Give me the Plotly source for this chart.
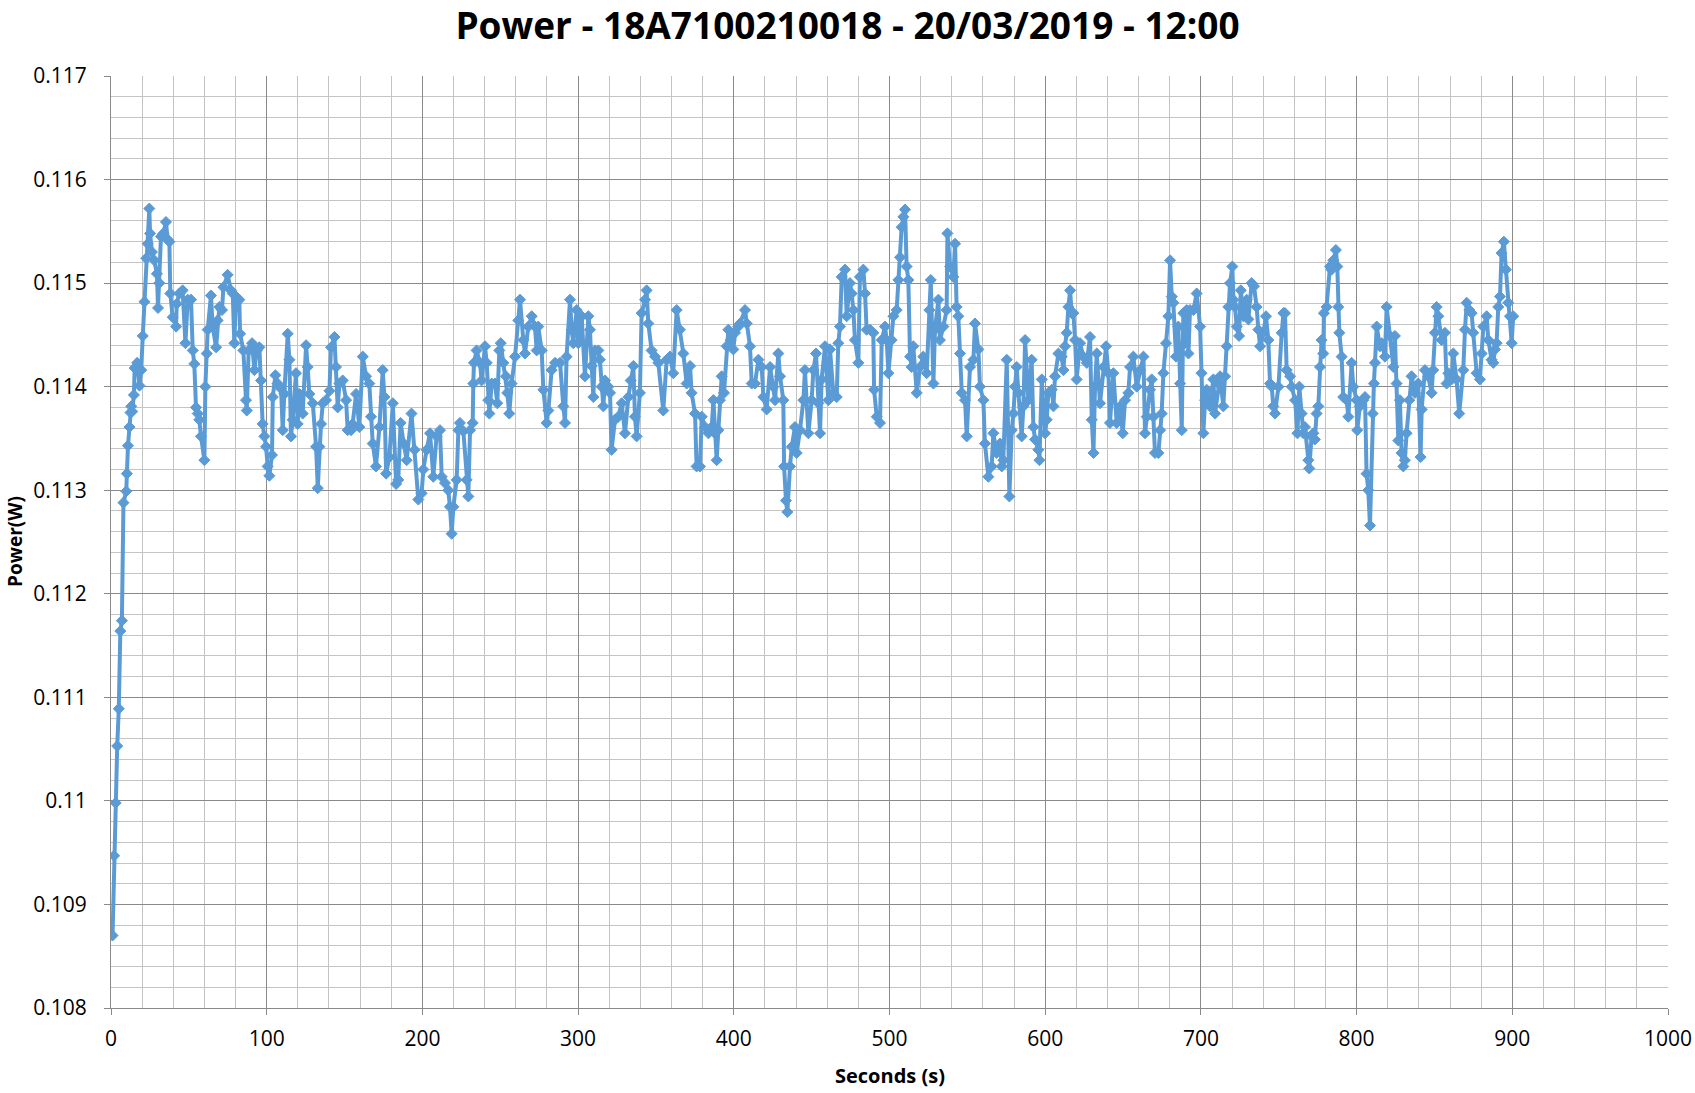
import plotly.graph_objects as go

# ---- data (seconds, power in W) ----
seconds_a = [1, 2, 3, 4, 5, 6, 7, 8, 9.8, 10.2, 10.9, 11.9, 12.5, 13, 13.6, 14.7, 15.2, 16.8, 18.3, 19.4, 20.4, 21.5, 22.6, 23.6,
             24.6, 25.1, 26.3, 27.8, 29.5, 30.2, 31, 32.1, 33.6, 35.3, 36.4, 37.5, 38.1, 39.6, 41.8, 42.2, 43.9, 46, 47.8, 49.3,
             51.4, 52.5, 53.5, 54.6, 55.7, 56.7, 57.8, 60, 60.6, 61.5, 62.1, 64.2, 65.3, 67.5, 68.5, 69.6, 71.3, 72.2, 74.9,
             77.1, 78.2, 79.2, 80.3, 82.4, 82.9, 85, 86.7, 87.2, 88.4, 90.6, 92.1, 93.6, 95.3, 96.4, 97.4, 98.5, 99.6, 100.6,
             101.7, 103.4, 103.9, 105.6, 107, 109.2, 110.3, 111.3, 113.5, 114.6, 115.6, 116.7, 118.8, 119.9, 121, 123.1, 125.3,
             126.3, 127.4, 129.6, 131.7, 132.8, 133.8, 134.9, 136, 138.1, 140.3, 141.3, 143.5, 144.5, 145.6, 146.7, 148.8, 151,
             152, 154.2, 155.2, 157.4, 159.5, 161.7, 163.8, 165.9, 167, 168.1, 170.2, 172.4, 174.5, 175.6, 176.7, 178.8, 181,
             183.1]
power_a = [0.10870, 0.10947, 0.10998, 0.11053, 0.11089, 0.11164, 0.11174, 0.11288, 0.11299, 0.11316, 0.11343, 0.11361,
           0.11375, 0.11381, 0.11376, 0.11392, 0.11418, 0.11423, 0.11401, 0.11416, 0.11449, 0.11482, 0.11524, 0.11538,
           0.11572, 0.11548, 0.11530, 0.11522, 0.11509, 0.11476, 0.11500, 0.11545, 0.11548, 0.11559, 0.11542, 0.11540,
           0.11490, 0.11467, 0.11458, 0.11480, 0.11490, 0.11493, 0.11442, 0.11484, 0.11484, 0.11435, 0.11422, 0.11380,
           0.11374, 0.11368, 0.11352, 0.11329, 0.11400, 0.11432, 0.11455, 0.11488, 0.11458, 0.11438, 0.11464, 0.11477,
           0.11474, 0.11496, 0.11508, 0.11493, 0.11490, 0.11442, 0.11487, 0.11484, 0.11451, 0.11435, 0.11387, 0.11377,
           0.11435, 0.11442, 0.11416, 0.11435, 0.11438, 0.11406, 0.11364, 0.11352, 0.11342, 0.11323, 0.11314, 0.11334,
           0.11390, 0.11411, 0.11403, 0.11398, 0.11358, 0.11393, 0.11451, 0.11426, 0.11352, 0.11368, 0.11413, 0.11364,
           0.11393, 0.11374, 0.11440, 0.11419, 0.11393, 0.11384, 0.11342, 0.11302, 0.11342, 0.11364, 0.11384, 0.11387,
           0.11396, 0.11438, 0.11448, 0.11419, 0.11380, 0.11403, 0.11406, 0.11387, 0.11358, 0.11358, 0.11364, 0.11393,
           0.11361, 0.11429, 0.11410, 0.11403, 0.11371, 0.11345, 0.11323, 0.11361, 0.11416, 0.11390, 0.11316, 0.11332,
           0.11384, 0.11306]

seconds_b = [184.5, 186, 188, 189.9, 193, 195, 197.4, 199.5, 200.6, 202.7, 204.9, 207, 209.1, 211.3, 212.4, 214.5, 216.6,
             217.7, 218.8, 219.9, 222, 223.1, 224.1, 226.3, 228.4, 229.5, 230.6, 232.3, 232.7, 233.1, 234.8, 237, 238, 240.2,
             241.3, 242.3, 243, 244.5, 246.6, 248.1, 249.4, 250.3, 252, 253.7, 254.5, 255.8, 257.3, 259.5, 261.6, 262.7,
             264.8, 265.9, 268, 270.2, 272.3, 273.4, 274.4, 276.6, 277.7, 279.8, 280.9, 283, 285.2, 288.4, 290.5, 291.6,
             292.6, 294.8, 295.9, 296.9, 299.1, 300.1, 302.3, 304.4, 306.6, 307.6, 308.7, 309.8, 310.8, 313, 314, 315.1,
             316.2, 317.3, 319.4, 320.5, 321.5, 323.7, 325.8, 328, 330.1, 332.3, 333.8, 335.5, 336.5, 337.6, 339.7, 340.8,
             343, 344, 345.1, 347.2, 349.4, 351.5, 354.7, 356.9, 359, 361.1, 363.3, 365.4, 367.6, 369.7, 371.9, 372.9,
             375.1, 376.1]
power_b = [0.11310, 0.11365, 0.11345, 0.11329, 0.11374, 0.11339, 0.11291, 0.11297, 0.11320, 0.11339, 0.11355, 0.11313,
           0.11352, 0.11358, 0.11313, 0.11307, 0.11300, 0.11284, 0.11258, 0.11284, 0.11310, 0.11358, 0.11365, 0.11357,
           0.11310, 0.11294, 0.11358, 0.11365, 0.11403, 0.11423, 0.11435, 0.11423, 0.11406, 0.11439, 0.11423, 0.11387,
           0.11374, 0.11403, 0.11403, 0.11384, 0.11435, 0.11442, 0.11423, 0.11410, 0.11394, 0.11374, 0.11403, 0.11429,
           0.11464, 0.11484, 0.11445, 0.11432, 0.11458, 0.11468, 0.11458, 0.11435, 0.11458, 0.11435, 0.11397, 0.11365,
           0.11377, 0.11416, 0.11423, 0.11423, 0.11381, 0.11365, 0.11429, 0.11484, 0.11455, 0.11442, 0.11474, 0.11442,
           0.11468, 0.11410, 0.11468, 0.11455, 0.11420, 0.11390, 0.11435, 0.11435, 0.11426, 0.11400, 0.11381, 0.11406,
           0.11400, 0.11394, 0.11339, 0.11368, 0.11371, 0.11384, 0.11355, 0.11390, 0.11406, 0.11420, 0.11371, 0.11352,
           0.11394, 0.11471, 0.11484, 0.11493, 0.11461, 0.11435, 0.11429, 0.11423, 0.11377, 0.11426, 0.11429, 0.11413,
           0.11474, 0.11455, 0.11432, 0.11403, 0.11420, 0.11394, 0.11374, 0.11323]

seconds_c = [378.3, 379.4, 381.5, 383.7, 385.8, 386.9, 387.9, 389, 390.1, 391.1, 392.2, 393.7, 395.4, 396.5, 398, 399.7,
             400.8, 402.9, 404, 407.2, 408.3, 410.4, 411.5, 413.6, 415.8, 417.9, 419, 421.1, 423.3, 425.4, 426.5, 428.6,
             429.7, 431.8, 432.3, 433.5, 434.4, 436.1, 437.2, 439.3, 440.4, 442.5, 444.7, 445.7, 447.9, 450, 451.1, 452.8,
             454.3, 455.4, 456.4, 458.6, 460.7, 461.8, 463.9, 466.1, 467.1, 468.2, 469.3, 471.4, 472.5, 474.6, 475.7, 476.8,
             477.8, 480, 481, 483.2, 484.3, 485.3, 487.5, 489.6, 490.1, 491.8, 493.9, 495, 497.1, 498.2, 499.3, 501.4,
             502.5, 504.6, 505.7, 506.8, 507.8, 508.9, 510, 511, 512.1, 513.2, 514.2, 515.3, 517.5, 519.6, 521.7, 523.9,
             525.6, 526.5, 528.2, 529.2, 531.4, 532.4, 534.6, 536.7, 537.2, 538.9, 541, 542.1, 543.1, 544.2, 545.3, 546.4,
             548.5, 549.6, 551.7, 553.9, 554.9, 557.1, 558.1, 560.3, 561.3, 563.5, 565.6, 566.7, 568.8]
power_c = [0.11323, 0.11371, 0.11361, 0.11355, 0.11361, 0.11387, 0.11355, 0.11329, 0.11358, 0.11387, 0.11410, 0.11394,
           0.11439, 0.11455, 0.11445, 0.11436, 0.11452, 0.11458, 0.11461, 0.11474, 0.11461, 0.11439, 0.11403, 0.11403,
           0.11426, 0.11419, 0.11390, 0.11378, 0.11419, 0.11400, 0.11387, 0.11432, 0.11410, 0.11387, 0.11323, 0.11290,
           0.11279, 0.11323, 0.11342, 0.11361, 0.11336, 0.11358, 0.11387, 0.11416, 0.11355, 0.11387, 0.11416, 0.11432,
           0.11384, 0.11355, 0.11407, 0.11439, 0.11387, 0.11436, 0.11394, 0.11390, 0.11442, 0.11458, 0.11506, 0.11513,
           0.11468, 0.11500, 0.11490, 0.11474, 0.11445, 0.11423, 0.11506, 0.11513, 0.11490, 0.11455, 0.11455, 0.11452,
           0.11397, 0.11371, 0.11365, 0.11445, 0.11458, 0.11445, 0.11413, 0.11445, 0.11468, 0.11474, 0.11503, 0.11525,
           0.11554, 0.11564, 0.11571, 0.11516, 0.11503, 0.11429, 0.11419, 0.11439, 0.11394, 0.11419, 0.11429, 0.11413,
           0.11474, 0.11503, 0.11403, 0.11455, 0.11484, 0.11445, 0.11458, 0.11474, 0.11548, 0.11516, 0.11506, 0.11538,
           0.11477, 0.11468, 0.11432, 0.11394, 0.11387, 0.11352, 0.11419, 0.11426, 0.11461, 0.11436, 0.11400, 0.11387,
           0.11345, 0.11313, 0.11323, 0.11355, 0.11336]

seconds_d = [571, 572.1, 573.1, 575.3, 577, 578.5, 579.6, 580.6, 581.7, 582.8, 584.9, 586, 587.1, 589.2, 591.3, 592.4,
             593.5, 595.6, 596.3, 597.8, 599.9, 601, 602, 604.2, 605.3, 606.3, 608.5, 610.6, 611.7, 612.7, 613.8, 614.9,
             616, 617, 618.1, 619.2, 620.2, 622.4, 624.5, 626.7, 628.8, 629.9, 631, 632, 633.1, 635.2, 637.4, 639.1, 640.6,
             641.6, 643.8, 645.9, 648.1, 649.8, 651.3, 653.4, 654.5, 656.6, 658.8, 660.9, 663.1, 664.1, 665.2, 667.3, 668.4,
             669.5, 670.5, 672.7, 673.8, 674.8, 675.9, 677.6, 679.1, 680.2, 681.3, 682.3, 684, 685.5, 686.6, 687.7, 688.7,
             689.8, 690.9, 692, 693, 695.2, 697.3, 699.5, 700.4, 701.6, 702.7, 703.7, 705.9, 708, 709.1, 711.2, 712.3,
             714.4, 715.5, 716.6, 717.6, 718.7, 720.2, 720.9, 721.9, 723, 724.5, 725.6, 727.3, 729.4, 730.5, 732.6, 734.1,
             735.8, 736.9, 738, 740.1, 741.8, 743.3, 744.4, 745.5, 746.5, 747.6, 749.8, 751.9, 753, 754, 755.1, 757.3,
             758.3, 760.5, 762]
power_d = [0.11345, 0.11323, 0.11329, 0.11426, 0.11294, 0.11358, 0.11374, 0.11400, 0.11419, 0.11394, 0.11352, 0.11381,
           0.11445, 0.11387, 0.11426, 0.11361, 0.11349, 0.11339, 0.11329, 0.11407, 0.11355, 0.11368, 0.11394, 0.11397,
           0.11381, 0.11410, 0.11432, 0.11429, 0.11416, 0.11439, 0.11452, 0.11477, 0.11493, 0.11471, 0.11471, 0.11445,
           0.11407, 0.11442, 0.11429, 0.11423, 0.11448, 0.11368, 0.11336, 0.11400, 0.11432, 0.11384, 0.11419, 0.11439,
           0.11413, 0.11365, 0.11413, 0.11365, 0.11381, 0.11355, 0.11387, 0.11394, 0.11419, 0.11429, 0.11400, 0.11416,
           0.11429, 0.11355, 0.11371, 0.11397, 0.11407, 0.11371, 0.11336, 0.11336, 0.11358, 0.11374, 0.11413, 0.11442,
           0.11468, 0.11522, 0.11487, 0.11481, 0.11429, 0.11458, 0.11403, 0.11358, 0.11471, 0.11442, 0.11474, 0.11432,
           0.11474, 0.11474, 0.11490, 0.11458, 0.11413, 0.11355, 0.11387, 0.11397, 0.11381, 0.11407, 0.11374, 0.11403,
           0.11410, 0.11381, 0.11410, 0.11439, 0.11477, 0.11500, 0.11516, 0.11484, 0.11477, 0.11458, 0.11449, 0.11493,
           0.11468, 0.11484, 0.11465, 0.11500, 0.11497, 0.11477, 0.11455, 0.11439, 0.11452, 0.11468, 0.11445, 0.11403,
           0.11400, 0.11381, 0.11374, 0.11400, 0.11452, 0.11471, 0.11471, 0.11416, 0.11410, 0.11400, 0.11387, 0.11355]

seconds_e = [763.2, 764.7, 765.8, 766.8, 769, 769.6, 771.1, 772.2, 773.2, 774.3, 775.4, 776.5, 777.5, 778.6, 779, 780.7,
             782.9, 783.9, 785, 786.7, 787.6, 788.2, 788.9, 790.4, 791.4, 793.6, 794.7, 796.8, 797.9, 800, 800.4, 802.1,
             804.3, 805.4, 806.4, 807.5, 808.6, 810.3, 811.1, 811.8, 812.9, 815, 816.1, 818.2, 819.3, 821.4, 823.6, 824.6,
             825.7, 826.8, 827.8, 828.9, 830, 831, 832.1, 833.8, 835.3, 837.5, 839.6, 841.1, 841.8, 843.9, 846, 848.2,
             849.2, 850.3, 851.4, 852.5, 854.6, 856.7, 857.8, 858.9, 861, 862.1, 864.2, 865.9, 868.5, 869.6, 870.7, 872.4,
             873.9, 874.9, 877.1, 879.2, 880.3, 881.4, 883.5, 884.6, 886.7, 887.8, 888.9, 889.9, 891, 892.1, 893.1, 894.6,
             895.9, 897.4, 898.5, 899.6, 900.6]
power_e = [0.11400, 0.11374, 0.11355, 0.11361, 0.11329, 0.11321, 0.11352, 0.11355, 0.11349, 0.11374, 0.11381, 0.11419,
           0.11445, 0.11432, 0.11471, 0.11477, 0.11516, 0.11513, 0.11522, 0.11532, 0.11516, 0.11477, 0.11452, 0.11429,
           0.11390, 0.11387, 0.11371, 0.11423, 0.11400, 0.11387, 0.11358, 0.11381, 0.11387, 0.11390, 0.11316, 0.11300,
           0.11266, 0.11374, 0.11403, 0.11423, 0.11458, 0.11439, 0.11442, 0.11429, 0.11477, 0.11449, 0.11419, 0.11449,
           0.11403, 0.11348, 0.11387, 0.11336, 0.11323, 0.11329, 0.11355, 0.11387, 0.11410, 0.11394, 0.11403, 0.11332,
           0.11378, 0.11416, 0.11410, 0.11394, 0.11416, 0.11452, 0.11477, 0.11468, 0.11445, 0.11452, 0.11403, 0.11413,
           0.11407, 0.11432, 0.11407, 0.11374, 0.11416, 0.11455, 0.11481, 0.11474, 0.11471, 0.11452, 0.11413, 0.11407,
           0.11432, 0.11458, 0.11468, 0.11445, 0.11426, 0.11423, 0.11436, 0.11442, 0.11477, 0.11487, 0.11529, 0.11540,
           0.11513, 0.11481, 0.11468, 0.11442, 0.11468]

x_tick_values = [0, 100, 200, 300, 400, 500, 600, 700, 800, 900, 1000]
x_tick_labels = ["0", "100", "200", "300", "400", "500", "600", "700", "800", "900", "1000"]
y_tick_values = [0.108, 0.109, 0.110, 0.111, 0.112, 0.113, 0.114, 0.115, 0.116, 0.117]
y_tick_labels = ["0.108", "0.109", "0.11", "0.111", "0.112", "0.113", "0.114", "0.115", "0.116", "0.117"]

title_text = "Power - 18A7100210018 - 20/03/2019 - 12:00"
x_title = "Seconds (s)"
y_title = "Power(W)"

seconds = seconds_a + seconds_b + seconds_c + seconds_d + seconds_e
power = power_a + power_b + power_c + power_d + power_e

FONT = "Open Sans"
BLUE = "#5B9BD5"
MAJOR = "#8A8A8A"
MINOR = "#C4C4C4"

fig = go.Figure()
fig.add_trace(go.Scatter(
    x=seconds, y=power, mode="lines+markers",
    line=dict(color=BLUE, width=4),
    marker=dict(symbol="diamond", size=8.5, color=BLUE, line=dict(color=BLUE, width=1)),
    showlegend=False,
))

W, H = 1695, 1093
ml, mr, mt, mb = 111, 27, 76, 85

fig.update_layout(
    width=W, height=H, autosize=False,
    margin=dict(l=ml, r=mr, t=mt, b=mb, autoexpand=False),
    paper_bgcolor="white", plot_bgcolor="white",
    font=dict(family=FONT, size=21, color="#000000"),
    title=dict(text="<b>" + title_text + "</b>", x=0.5, xanchor="center",
               yref="container", y=1 - 26.0 / H, yanchor="middle",
               font=dict(family=FONT, size=37, color="#000000")),
    xaxis=dict(
        range=[0, 1000], tickvals=x_tick_values, ticktext=x_tick_labels,
        showgrid=True, gridcolor=MAJOR, gridwidth=1,
        minor=dict(dtick=20, tick0=0, showgrid=True, gridcolor=MINOR, gridwidth=1, ticks=""),
        showline=True, linecolor=MAJOR, linewidth=1,
        ticks="outside", ticklen=6, tickcolor=MAJOR,
        ticklabelstandoff=6, automargin=False,
        zeroline=False, fixedrange=True,
        tickfont=dict(family=FONT, size=21, color="#000000"),
    ),
    yaxis=dict(
        range=[0.108, 0.117], tickvals=y_tick_values, ticktext=y_tick_labels,
        showgrid=True, gridcolor=MAJOR, gridwidth=1,
        minor=dict(dtick=0.0002, tick0=0.108, showgrid=True, gridcolor=MINOR, gridwidth=1, ticks=""),
        showline=True, linecolor=MAJOR, linewidth=1,
        ticks="outside", ticklen=6, tickcolor=MAJOR,
        ticklabelstandoff=13, automargin=False,
        zeroline=False, fixedrange=True,
        tickfont=dict(family=FONT, size=21, color="#000000"),
    ),
    annotations=[
        dict(text="<b>" + x_title + "</b>", xref="paper", yref="paper", x=0.5, y=(1008 - 1075) / 932,
             xanchor="center", yanchor="middle", showarrow=False, font=dict(family=FONT, size=20, color="#000000")),
        dict(text="<b>" + y_title + "</b>", xref="paper", yref="paper", x=(15 - ml) / (W - ml - mr), y=0.5,
             xanchor="center", yanchor="middle", textangle=-90, showarrow=False,
             font=dict(family=FONT, size=19, color="#000000")),
    ],
)

fig.write_html("out.html", config={"displayModeBar": False},
               post_script="document.body.style.margin='0';document.body.style.overflow='hidden';")
